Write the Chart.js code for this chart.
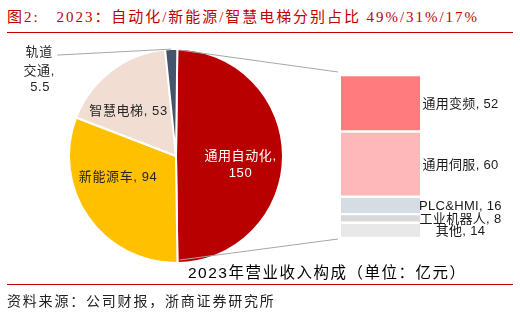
<!DOCTYPE html>
<html>
<head>
<meta charset="utf-8">
<script src="https://cdn.jsdelivr.net/npm/chart.js@4.4.1/dist/chart.umd.min.js"></script>
<style>
    body { margin: 0; background: #fff; }
    #wrap { position: relative; width: 520px; height: 315px; background: #fff; overflow: hidden; }
    #wrap canvas { position: absolute; left: 0; top: 0; }
    .rule { position: absolute; left: 7px; width: 506px; height: 1px; background: #C00000; }
    #title {
        position: absolute; left: 7px; top: 5px; white-space: pre;
        font: 15px "Liberation Serif", "Noto Sans CJK SC"; letter-spacing: 1.95px; color: #C00000;
    }
    #axis-title {
        position: absolute; left: 188px; top: 260px; white-space: pre;
        font: 15.5px "Liberation Sans", "Noto Sans CJK SC"; letter-spacing: 1.5px; color: #000;
    }
    #source {
        position: absolute; left: 7px; top: 290px; white-space: pre;
        font: 14px "Liberation Serif", "Noto Sans CJK SC"; letter-spacing: 1.8px; color: #222;
    }
</style>
</head>
<body>
<div id="wrap">
    <div id="title">图2:   2023：自动化/新能源/智慧电梯分别占比 49%/31%/17%</div>
    <div class="rule" style="top:32px"></div>
    <canvas id="pie-chart" width="520" height="315"></canvas>
    <canvas id="bar-chart" width="520" height="315"></canvas>
    <div id="axis-title">2023年营业收入构成（单位：亿元）</div>
    <div class="rule" style="top:284px"></div>
    <div id="source">资料来源：公司财报，浙商证券研究所</div>
</div>
<script>
// pie: 2023 revenue by business (亿元)
const pieLabels = ['通用自动化', '新能源车', '智慧电梯', '轨道交通'];
const pieValues = [150, 94, 53, 5.5];
const pieColors = ['#B80000', '#FFC000', '#F2DDD3', '#44546A'];

// bar: split of 通用自动化, listed bottom to top
const barLabels = ['其他', '工业机器人', 'PLC&HMI', '通用伺服', '通用变频'];
const barValues = [14, 8, 16, 60, 52];
const barColors = ['#E8E8E8', '#D9D9D9', '#D6DCE4', '#FFB8BA', '#FF7B7E'];

const LABEL_FONT = '13px "Liberation Sans", "Noto Sans CJK SC"';

// nudges for the in-slice labels, relative to each arc's centroid
const pieLabelShift = [[11, 8], [-14, -9], [-15, -2]];

const pieLabelPlugin = {
    id: 'pieLabels',
    afterDatasetsDraw(chart) {
        const ctx = chart.ctx;
        const arcs = chart.getDatasetMeta(0).data;
        ctx.save();
        ctx.font = LABEL_FONT;
        ctx.letterSpacing = '0.6px';
        ctx.textAlign = 'center';
        ctx.textBaseline = 'middle';

        arcs.forEach((arc, i) => {
            const name = pieLabels[i];
            const val = pieValues[i];
            if (i < 3) {
                const p = arc.tooltipPosition();
                const x = p.x + pieLabelShift[i][0];
                const y = p.y + pieLabelShift[i][1];
                if (i === 0) {
                    ctx.fillStyle = '#fff';
                    ctx.fillText(name + ',', x, y - 8);
                    ctx.fillText(String(val), x, y + 9);
                } else {
                    ctx.fillStyle = '#262626';
                    ctx.fillText(name + ', ' + val, x, y);
                }
            } else {
                // small slice: label outside with a leader line
                const mid = (arc.startAngle + arc.endAngle) / 2;
                const ax = arc.x + arc.outerRadius * Math.cos(mid);
                const ay = arc.y + arc.outerRadius * Math.sin(mid);
                const lx = ax - 114, ly = ay + 6;
                ctx.strokeStyle = '#A6A6A6';
                ctx.lineWidth = 1;
                ctx.beginPath();
                ctx.moveTo(ax, ay);
                ctx.lineTo(lx, ly);
                ctx.stroke();
                ctx.fillStyle = '#262626';
                const tx = lx - 18;
                ctx.fillText(name.slice(0, 2), tx, ly - 3);
                ctx.fillText(name.slice(2) + ',', tx, ly + 16);
                ctx.fillText(String(val), tx + 1, ly + 32);
            }
        });
        ctx.restore();
    }
};

const pieChart = new Chart(document.getElementById('pie-chart'), {
    type: 'pie',
    data: {
        labels: pieLabels,
        datasets: [{
            data: pieValues,
            backgroundColor: pieColors,
            borderColor: '#fff',
            borderWidth: 2,
            radius: 107
        }]
    },
    options: {
        responsive: false,
        animation: false,
        rotation: 0.7,
        layout: { padding: { left: 66, right: 234, top: 46, bottom: 49 } },
        plugins: {
            legend: { display: false },
            tooltip: { enabled: false }
        }
    },
    plugins: [pieLabelPlugin]
});

const barExtrasPlugin = {
    id: 'barExtras',
    afterDatasetsDraw(chart) {
        const ctx = chart.ctx;
        ctx.save();

        // connector lines from the 通用自动化 slice to the bar
        const arc = pieChart.getDatasetMeta(0).data[0];
        const topBar = chart.getDatasetMeta(barValues.length - 1).data[0];
        const botBar = chart.getDatasetMeta(0).data[0];
        const left = topBar.x - topBar.width / 2 - 3;
        ctx.strokeStyle = '#A6A6A6';
        ctx.lineWidth = 1;
        ctx.beginPath();
        ctx.moveTo(arc.x + arc.outerRadius * Math.cos(arc.startAngle) + 2, arc.y + arc.outerRadius * Math.sin(arc.startAngle) + 1);
        ctx.lineTo(left, topBar.y - 3);
        ctx.moveTo(arc.x + arc.outerRadius * Math.cos(arc.endAngle) + 2, arc.y + arc.outerRadius * Math.sin(arc.endAngle) - 3);
        ctx.lineTo(left, botBar.base + 1);
        ctx.stroke();

        // segment labels
        ctx.font = LABEL_FONT;
        ctx.letterSpacing = '0.3px';
        ctx.fillStyle = '#1a1a1a';
        ctx.textAlign = 'center';
        ctx.textBaseline = 'middle';
        barLabels.forEach((name, i) => {
            const bar = chart.getDatasetMeta(i).data[0];
            ctx.fillText(name + ', ' + barValues[i], bar.x + 80, (bar.y + bar.base) / 2 + 1);
        });
        ctx.restore();
    }
};

new Chart(document.getElementById('bar-chart'), {
    type: 'bar',
    data: {
        labels: ['通用自动化'],
        datasets: barLabels.map((name, i) => ({
            label: name,
            data: [barValues[i]],
            backgroundColor: barColors[i],
            borderColor: '#fff',
            borderWidth: { top: 1.5, bottom: 1.5, left: 0, right: 0 },
            borderSkipped: false,
            barPercentage: 1,
            categoryPercentage: 1
        }))
    },
    options: {
        responsive: false,
        animation: false,
        events: [],
        layout: { padding: { left: 341, right: 100, top: 75, bottom: 77 } },
        scales: {
            x: { stacked: true, display: false },
            y: { stacked: true, display: false, min: 0, max: 150 }
        },
        plugins: {
            legend: { display: false },
            tooltip: { enabled: false }
        }
    },
    plugins: [barExtrasPlugin]
});
</script>
</body>
</html>
